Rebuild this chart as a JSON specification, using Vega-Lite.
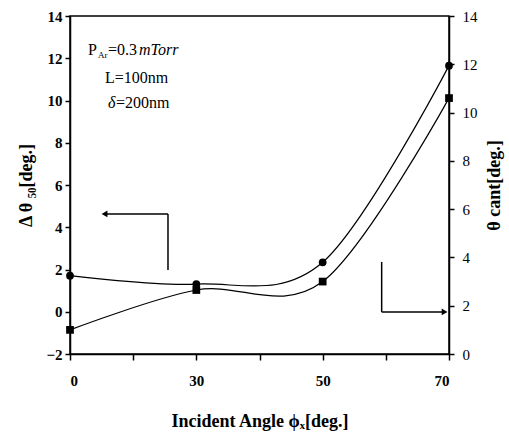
{
  "$schema": "https://vega.github.io/schema/vega-lite/v6.json",
  "autosize": "none",
  "width": 379,
  "height": 338,
  "padding": {"left": 70, "top": 16, "right": 60, "bottom": 86},
  "background": "white",
  "config": {
    "view": {"stroke": "black", "strokeWidth": 1.5},
    "font": "Liberation Serif",
    "axis": {"grid": false, "domainColor": "black", "domainWidth": 1.5, "tickColor": "black", "tickWidth": 1.5, "labelColor": "black", "titleColor": "black", "labelFont": "Liberation Serif", "titleFont": "Liberation Serif"}
  },
  "datasets": {
    "d50": [
      {"angle": 0, "value": 1.71},
      {"angle": 30, "value": 1.31},
      {"angle": 50, "value": 2.34},
      {"angle": 70, "value": 11.65}
    ],
    "cant": [
      {"angle": 0, "value": 1.0},
      {"angle": 30, "value": 2.65},
      {"angle": 50, "value": 3.0},
      {"angle": 70, "value": 10.6}
    ],
    "one": [{}]
  },
  "layer": [
    {
      "layer": [
        {
          "data": {"name": "d50"},
          "mark": {"type": "line", "interpolate": "cardinal", "color": "black", "strokeWidth": 1.2},
          "encoding": {
            "x": {"field": "angle", "type": "quantitative",
              "scale": {"domain": [0, 30, 50, 70], "range": [0, 126.33, 252.67, 379], "nice": false, "zero": false},
              "axis": {"values": [0, 15, 30, 40, 50, 60, 70], "labelExpr": "datum.value == 15 || datum.value == 40 || datum.value == 60 ? '' : datum.label", "tickSize": 6, "labelPadding": 13, "labelFont": "Liberation Serif", "labelFontSize": 15, "labelFontWeight": "bold", "labelBaseline": "top", "title": "Incident Angle ϕₓ[deg.]", "titleFont": "Liberation Serif", "titleFontSize": 18, "titleFontWeight": "bold", "titlePadding": 24}},
            "y": {"field": "value", "type": "quantitative",
              "scale": {"domain": [-2, 14], "nice": false, "zero": false},
              "axis": {"orient": "left", "values": [-2, 0, 2, 4, 6, 8, 10, 12, 14], "tickSize": 5, "labelPadding": 3, "labelFont": "Liberation Serif", "labelFontSize": 15, "labelFontWeight": "bold", "title": "Δ θ ₅₀[deg.]", "titleFont": "Liberation Serif", "titleFontSize": 18, "titleFontWeight": "bold", "titlePadding": 10}}
          }
        },
        {
          "data": {"name": "d50"},
          "mark": {"type": "point", "shape": "circle", "filled": true, "color": "black", "size": 60, "opacity": 1},
          "encoding": {
            "x": {"field": "angle", "type": "quantitative"},
            "y": {"field": "value", "type": "quantitative"}
          }
        },
        {
          "data": {"name": "one"},
          "mark": {"type": "rule", "color": "black", "strokeWidth": 1.5},
          "encoding": {"x": {"datum": 23.27, "type": "quantitative"}, "y": {"datum": 1.98, "type": "quantitative"}, "y2": {"datum": 4.63}}
        },
        {
          "data": {"name": "one"},
          "mark": {"type": "rule", "color": "black", "strokeWidth": 1.5},
          "encoding": {"x": {"datum": 23.27, "type": "quantitative"}, "x2": {"datum": 8.55}, "y": {"datum": 4.63, "type": "quantitative"}}
        },
        {
          "data": {"name": "one"},
          "mark": {"type": "point", "shape": "triangle-left", "filled": true, "color": "black", "size": 45, "opacity": 1},
          "encoding": {"x": {"datum": 8.2, "type": "quantitative"}, "y": {"datum": 4.63, "type": "quantitative"}}
        },
        {
          "data": {"name": "one"},
          "mark": {"type": "rule", "color": "black", "strokeWidth": 1.5},
          "encoding": {"x": {"datum": 59.34, "type": "quantitative"}, "y": {"datum": 2.36, "type": "quantitative"}, "y2": {"datum": -0.01}}
        },
        {
          "data": {"name": "one"},
          "mark": {"type": "rule", "color": "black", "strokeWidth": 1.5},
          "encoding": {"x": {"datum": 59.34, "type": "quantitative"}, "x2": {"datum": 69.0}, "y": {"datum": -0.01, "type": "quantitative"}}
        },
        {
          "data": {"name": "one"},
          "mark": {"type": "point", "shape": "triangle-right", "filled": true, "color": "black", "size": 45, "opacity": 1},
          "encoding": {"x": {"datum": 69.3, "type": "quantitative"}, "y": {"datum": -0.01, "type": "quantitative"}}
        },
        {
          "data": {"name": "one"},
          "mark": {"type": "text", "align": "left", "baseline": "alphabetic", "font": "Liberation Serif", "fontSize": 16, "color": "black"},
          "encoding": {"x": {"datum": 4.27, "type": "quantitative"}, "y": {"datum": 12.15, "type": "quantitative"}, "text": {"value": "P"}}
        },
        {
          "data": {"name": "one"},
          "mark": {"type": "text", "align": "left", "baseline": "alphabetic", "font": "Liberation Serif", "fontSize": 9, "color": "black", "dx": 10, "dy": 3},
          "encoding": {"x": {"datum": 4.27, "type": "quantitative"}, "y": {"datum": 12.15, "type": "quantitative"}, "text": {"value": "Ar"}}
        },
        {
          "data": {"name": "one"},
          "mark": {"type": "text", "align": "left", "baseline": "alphabetic", "font": "Liberation Serif", "fontSize": 16, "color": "black", "dx": 20},
          "encoding": {"x": {"datum": 4.27, "type": "quantitative"}, "y": {"datum": 12.15, "type": "quantitative"}, "text": {"value": "=0.3"}}
        },
        {
          "data": {"name": "one"},
          "mark": {"type": "text", "align": "left", "baseline": "alphabetic", "font": "Liberation Serif", "fontSize": 16, "fontStyle": "italic", "color": "black", "dx": 51},
          "encoding": {"x": {"datum": 4.27, "type": "quantitative"}, "y": {"datum": 12.15, "type": "quantitative"}, "text": {"value": "mTorr"}}
        },
        {
          "data": {"name": "one"},
          "mark": {"type": "text", "align": "left", "baseline": "alphabetic", "font": "Liberation Serif", "fontSize": 16, "color": "black"},
          "encoding": {"x": {"datum": 8.3, "type": "quantitative"}, "y": {"datum": 10.83, "type": "quantitative"}, "text": {"value": "L=100nm"}}
        },
        {
          "data": {"name": "one"},
          "mark": {"type": "text", "align": "left", "baseline": "alphabetic", "font": "Liberation Serif", "fontSize": 16, "fontStyle": "italic", "color": "black"},
          "encoding": {"x": {"datum": 9.0, "type": "quantitative"}, "y": {"datum": 9.65, "type": "quantitative"}, "text": {"value": "δ"}}
        },
        {
          "data": {"name": "one"},
          "mark": {"type": "text", "align": "left", "baseline": "alphabetic", "font": "Liberation Serif", "fontSize": 16, "color": "black", "dx": 8},
          "encoding": {"x": {"datum": 9.0, "type": "quantitative"}, "y": {"datum": 9.65, "type": "quantitative"}, "text": {"value": "=200nm"}}
        }
      ]
    },
    {
      "layer": [
        {
          "data": {"name": "cant"},
          "mark": {"type": "line", "interpolate": "cardinal", "color": "black", "strokeWidth": 1.2},
          "encoding": {
            "x": {"field": "angle", "type": "quantitative"},
            "y": {"field": "value", "type": "quantitative",
              "scale": {"domain": [0, 14], "nice": false, "zero": false},
              "axis": {"orient": "right", "values": [0, 2, 4, 6, 8, 10, 12, 14], "tickSize": 5, "labelPadding": 8, "labelFont": "Liberation Serif", "labelFontSize": 15, "title": "θ  cant[deg.]", "titleFont": "Liberation Serif", "titleFontSize": 18, "titleFontWeight": "bold", "titleAngle": -90, "titleBaseline": "top", "titlePadding": 8}}
          }
        },
        {
          "data": {"name": "cant"},
          "mark": {"type": "point", "shape": "square", "filled": true, "color": "black", "size": 60, "opacity": 1},
          "encoding": {
            "x": {"field": "angle", "type": "quantitative"},
            "y": {"field": "value", "type": "quantitative"}
          }
        }
      ]
    }
  ],
  "resolve": {"scale": {"y": "independent"}}
}
